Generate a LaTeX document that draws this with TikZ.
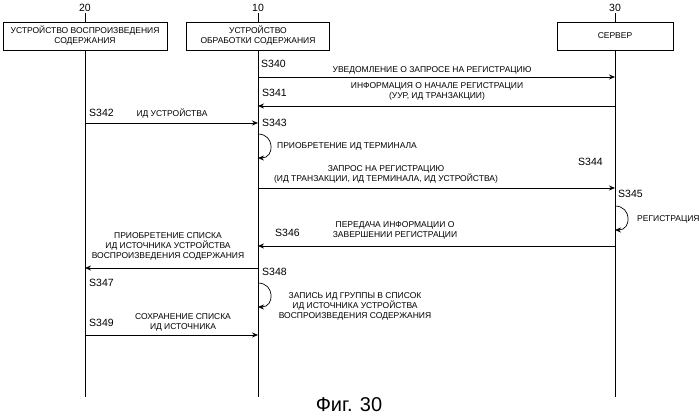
\documentclass[tikz,border=0pt]{standalone}
\usepackage{fontspec}
\setmainfont{Liberation Sans}
\usetikzlibrary{arrows.meta}
\begin{document}
\begin{tikzpicture}[x=1pt,y=-1pt,
  lbl/.style={font=\fontsize{8.5}{10}\selectfont,align=center,inner sep=1pt},
  sl/.style={font=\fontsize{10.5}{12}\selectfont,inner sep=1pt},
  box/.style={draw,minimum height=28pt,font=\fontsize{8.5}{10}\selectfont,align=center,inner sep=1pt},
  msg/.style={-{Stealth[length=6pt,width=5pt]},line width=0.7pt},
  life/.style={line width=0.7pt}]
\useasboundingbox (0,0) rectangle (699,420);
% headers
\node[box,minimum width=164pt] (b20) at (85,36) {УСТРОЙСТВО ВОСПРОИЗВЕДЕНИЯ\\СОДЕРЖАНИЯ};
\node[box,minimum width=143pt] (b10) at (258,36) {УСТРОЙСТВО\\ОБРАБОТКИ СОДЕРЖАНИЯ};
\node[box,minimum width=116pt] (b30) at (615,36) {СЕРВЕР};
\node[sl] (n20) at (85,8) {20};
\node[sl] (n10) at (258,8) {10};
\node[sl] (n30) at (615,8) {30};
\draw (n20.south) -- (b20.north);
\draw (n10.south) -- (b10.north);
\draw (n30.south) -- (b30.north);
\coordinate (e20) at (85,397);
\coordinate (e10) at (258,397);
\coordinate (e30) at (615,397);
\draw[life] (b20.south) -- (e20);
\draw[life] (b10.south) -- (e10);
\draw[life] (b30.south) -- (e30);
% S340
\coordinate (a1) at (258,77); \coordinate (a2) at (615,77);
\draw[msg] (a1) -- (a2);
\node[sl,anchor=west] (s340) at (260,64) {S340};
\node[lbl] (t340) at (432,70) {УВЕДОМЛЕНИЕ О ЗАПРОСЕ НА РЕГИСТРАЦИЮ};
% S341
\coordinate (c1) at (615,106); \coordinate (c2) at (258,106);
\draw[msg] (c1) -- (c2);
\node[sl,anchor=west] (s341) at (261,93) {S341};
\node[lbl] (t341) at (437,91) {ИНФОРМАЦИЯ О НАЧАЛЕ РЕГИСТРАЦИИ\\(УУР, ИД ТРАНЗАКЦИИ)};
% S342
\coordinate (d1) at (85,123); \coordinate (d2) at (258,123);
\draw[msg] (d1) -- (d2);
\node[sl,anchor=west] (s342) at (88,113) {S342};
\node[lbl] (t342) at (172,114) {ИД УСТРОЙСТВА};
% S343
\node[sl,anchor=west] (s343) at (261,123) {S343};
\coordinate (f1) at (258,134); \coordinate (f2) at (258,158);
\draw[msg] (f1) to[out=0,in=0,looseness=1.8] (f2);
\node[lbl,anchor=west] (t343) at (276,146) {ПРИОБРЕТЕНИЕ ИД ТЕРМИНАЛА};
% S344
\coordinate (g1) at (258,188); \coordinate (g2) at (615,188);
\draw[msg] (g1) -- (g2);
\node[sl,anchor=west] (s344) at (577,162) {S344};
\node[lbl] (t344) at (386,174) {ЗАПРОС НА РЕГИСТРАЦИЮ\\(ИД ТРАНЗАКЦИИ, ИД ТЕРМИНАЛА, ИД УСТРОЙСТВА)};
% S345
\node[sl,anchor=west] (s345) at (617,194) {S345};
\coordinate (h1) at (615,206); \coordinate (h2) at (615,230);
\draw[msg] (h1) to[out=0,in=0,looseness=1.8] (h2);
\node[lbl,anchor=west] (t345) at (636,219) {РЕГИСТРАЦИЯ};
% S346
\coordinate (i1) at (615,246); \coordinate (i2) at (258,246);
\draw[msg] (i1) -- (i2);
\node[sl,anchor=west] (s346) at (274,233) {S346};
\node[lbl] (t346) at (395,230) {ПЕРЕДАЧА ИНФОРМАЦИИ О\\ЗАВЕРШЕНИИ РЕГИСТРАЦИИ};
% S347
\coordinate (j1) at (258,268); \coordinate (j2) at (85,268);
\draw[msg] (j1) -- (j2);
\node[lbl] (t347) at (168,246) {ПРИОБРЕТЕНИЕ СПИСКА\\ИД ИСТОЧНИКА УСТРОЙСТВА\\ВОСПРОИЗВЕДЕНИЯ СОДЕРЖАНИЯ};
\node[sl,anchor=west] (s347) at (88,283) {S347};
% S348
\node[sl,anchor=west] (s348) at (261,272) {S348};
\coordinate (k1) at (258,283); \coordinate (k2) at (258,307);
\draw[msg] (k1) to[out=0,in=0,looseness=1.8] (k2);
\node[lbl] (t348) at (355,306) {ЗАПИСЬ ИД ГРУППЫ В СПИСОК\\ИД ИСТОЧНИКА УСТРОЙСТВА\\ВОСПРОИЗВЕДЕНИЯ СОДЕРЖАНИЯ};
% S349
\coordinate (m1) at (85,335); \coordinate (m2) at (258,335);
\draw[msg] (m1) -- (m2);
\node[sl,anchor=west] (s349) at (88,323) {S349};
\node[lbl] (t349) at (183,322) {СОХРАНЕНИЕ СПИСКА\\ИД ИСТОЧНИКА};
\node[font=\fontsize{20}{24}\selectfont] (fig) at (349,405) {Фиг. 30};
\end{tikzpicture}
\end{document}
